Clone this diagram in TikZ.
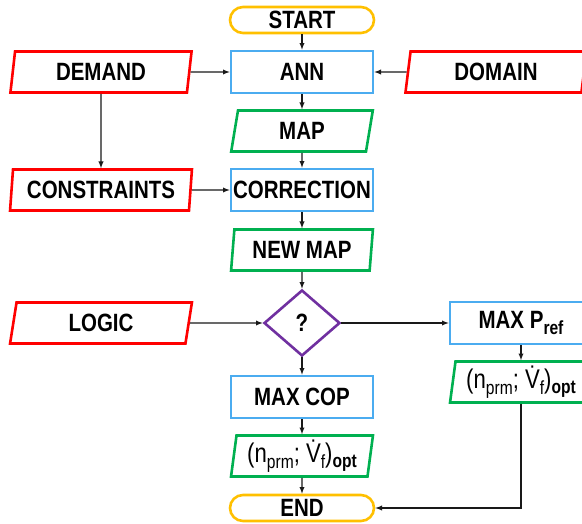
\documentclass[tikz,border=0pt]{standalone}
\usepackage{fontspec}
\setmainfont{Liberation Sans}[FakeStretch=0.82]
\usepackage{tikz}
\usetikzlibrary{arrows,shapes,calc}
\definecolor{termcol}{RGB}{255,192,0}
\definecolor{proccol}{RGB}{75,172,240}
\definecolor{datacol}{RGB}{0,176,80}
\definecolor{inputcol}{RGB}{255,0,0}
\definecolor{deccol}{RGB}{112,48,160}
\newcommand{\subtxt}[1]{\raisebox{-0.22em}{\fontsize{19}{19}\selectfont #1}}
\newcommand{\optpoint}{{\mdseries\fontsize{27}{30}\selectfont (n\subtxt{prm}; \.{V}\subtxt{f})}\subtxt{opt}}

\begin{document}
\begin{tikzpicture}
\tikzstyle{main}=[rectangle, line width=2.6pt, node distance=59pt, minimum width=142pt, minimum height=42pt, inner sep=0pt, fill=white, font=\bfseries\fontsize{25}{28}\selectfont]
\tikzstyle{term}=[main, draw=termcol, rounded corners=13pt, minimum width=144pt, minimum height=26pt]
\tikzstyle{proc}=[main, draw=proccol]
\tikzstyle{data}=[main, trapezium, trapezium left angle=82, trapezium right angle=98, trapezium stretches=true, draw=datacol, minimum height=41pt]
\tikzstyle{input}=[data, draw=inputcol, minimum width=182pt]
\tikzstyle{decision}=[main, diamond, aspect=1.15, draw=deccol, minimum width=76pt, minimum height=66pt]
\tikzstyle{connect}=[-latex, line width=1.3pt, black!90]

  \useasboundingbox (0,0) rectangle (582pt,-523pt);

  % main column
  \node[term] (start) at (302pt,-20pt)           {START};
  \node[proc] (ann)      [below of =start, yshift=7pt]     {ANN};
  \node[data] (map)      [below of =ann]                   {MAP};
  \node[proc] (corr)     [below of =map]                   {CORRECTION};
  \node[data] (newmap)   [below of =corr, yshift=-1pt]     {NEW MAP};
  \node[decision] (check) [below of =newmap, yshift=-14pt] {?};
  \node[proc] (maxcop)   [below of =check, yshift=-15pt]   {MAX COP};
  \node[data] (optcop)   [below of =maxcop]                {\optpoint};
  \node[term] (end)      [below of =optcop, yshift=7pt]    {END};

  % inputs and the other branch
  \node[input] (demand)  [node distance=201pt, left of =ann]    {DEMAND};
  \node[input] (domain)  [node distance=194pt, right of =ann]   {DOMAIN};
  \node[input] (constr)  [node distance=201pt, left of =corr]   {CONSTRAINTS};
  \node[input] (logic)   [node distance=201pt, left of =check]  {LOGIC};
  \node[proc] (maxp)     [node distance=219pt, right of =check] {MAX P\subtxt{ref}};
  \node[data] (optp)     [below of =maxp]                       {\optpoint};

  \path (start) edge [connect] (ann);
  \path (demand) edge [connect] (ann);
  \path (domain) edge [connect] (ann);
  \path (ann) edge [connect] (map);
  \path (demand) edge [connect] (constr);
  \path (map) edge [connect] (corr);
  \path (constr) edge [connect] (corr);
  \path (corr) edge [connect] (newmap);
  \path (newmap) edge [connect] (check);
  \path (logic) edge [connect] (check);
  \path (check) edge [connect] (maxp);
  \path (check) edge [connect] (maxcop);
  \path (maxcop) edge [connect] (optcop);
  \path (optcop) edge [connect] (end);
  \path (maxp) edge [connect] (optp);
  \draw [connect] (optp) |- (end);

\end{tikzpicture}
\end{document}
